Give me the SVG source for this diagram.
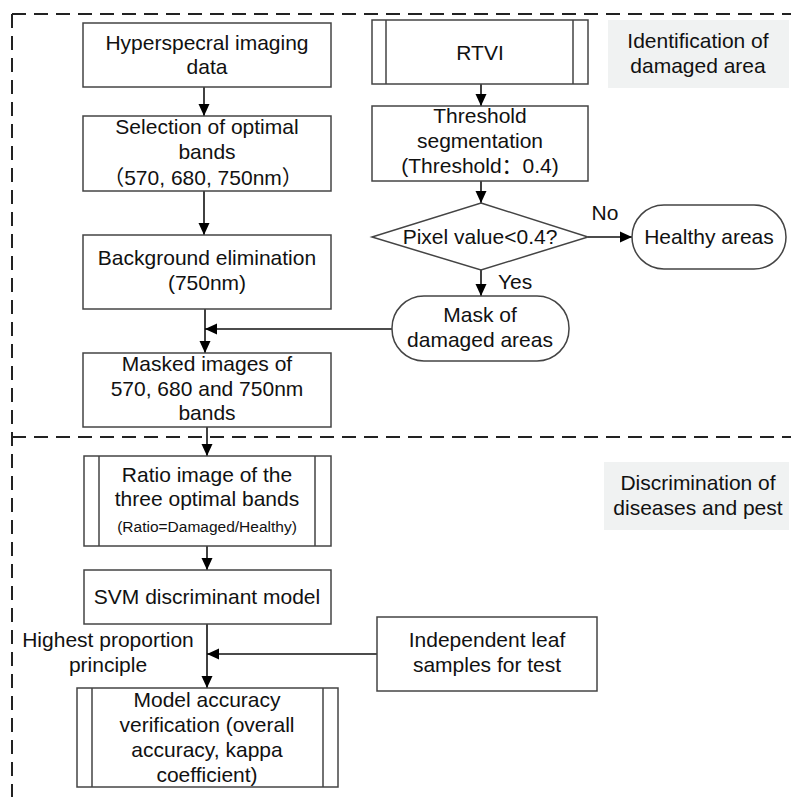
<svg xmlns="http://www.w3.org/2000/svg" width="791" height="797" viewBox="0 0 791 797">
<style>
text{font-family:"Liberation Sans",Arial,"Noto Sans CJK SC",sans-serif;font-size:21px;fill:#111;text-anchor:middle}
.box{fill:#fff;stroke:#444;stroke-width:1.5}
.in{stroke:#444;stroke-width:1.5;fill:none}
.ln{stroke:#111;stroke-width:1.6;fill:none}
.dash{stroke:#222;stroke-width:2;stroke-dasharray:14 8;fill:none}
.lab{fill:#f0f2f2}
.sm{font-size:15.5px}
</style>
<defs>
<marker id="ah" markerUnits="userSpaceOnUse" markerWidth="12" markerHeight="12" refX="12" refY="6" orient="auto">
<path d="M0,0.5 L12,6 L0,11.5 z" fill="#000"/>
</marker>
</defs>
<rect width="791" height="797" fill="#fff"/>
<g id="frame">
<path class="dash" d="M12,14 H791 M12,14 V797 M12,437 H791"/>
</g>
<g id="label1"><rect class="lab" x="608" y="20" width="181" height="68"/><text x="698" y="48">Identification of</text><text x="698" y="73">damaged area</text></g>
<g id="label2"><rect class="lab" x="604" y="462" width="185" height="68"/><text x="698" y="490">Discrimination of</text><text x="698" y="515">diseases and pest</text></g>
<g id="connectors">
<path class="ln" d="M204,87 V116" marker-end="url(#ah)"/>
<path class="ln" d="M204,191 V235" marker-end="url(#ah)"/>
<path class="ln" d="M205,309 V353" marker-end="url(#ah)"/>
<path class="ln" d="M392,329 H205" marker-end="url(#ah)"/>
<path class="ln" d="M207,427 V456" marker-end="url(#ah)"/>
<path class="ln" d="M207,546 V570" marker-end="url(#ah)"/>
<path class="ln" d="M207,624 V688" marker-end="url(#ah)"/>
<path class="ln" d="M377,654 H207" marker-end="url(#ah)"/>
<path class="ln" d="M481,84 V106" marker-end="url(#ah)"/>
<path class="ln" d="M481,181 V203" marker-end="url(#ah)"/>
<path class="ln" d="M588,237 H632" marker-end="url(#ah)"/>
<path class="ln" d="M481,270 V296" marker-end="url(#ah)"/>
<text x="605" y="220">No</text>
<text x="498" y="289" style="text-anchor:start">Yes</text>
<text x="108" y="647">Highest proportion</text>
<text x="108" y="672">principle</text>
</g>
<g id="n1"><rect class="box" x="83" y="23" width="248" height="64"/><text x="207" y="50">Hyperspecral imaging</text><text x="207" y="74">data</text></g>
<g id="n2"><rect class="box" x="83" y="116" width="248" height="75"/><text x="207" y="134">Selection of optimal</text><text x="207" y="159">bands</text><text x="203" y="185">（570, 680, 750nm）</text></g>
<g id="n3"><rect class="box" x="83" y="235" width="248" height="74"/><text x="207" y="265">Background elimination</text><text x="207" y="290">(750nm)</text></g>
<g id="n4"><rect class="box" x="83" y="353" width="248" height="74"/><text x="207" y="371">Masked images of</text><text x="207" y="396">570, 680 and 750nm</text><text x="207" y="420">bands</text></g>
<g id="n5"><rect class="box" x="84" y="456" width="247" height="90"/><path class="in" d="M99,456 V546 M315,456 V546"/><text x="207" y="482">Ratio image of the</text><text x="207" y="506">three optimal bands</text><text class="sm" x="207" y="532">(Ratio=Damaged/Healthy)</text></g>
<g id="n6"><rect class="box" x="84" y="570" width="247" height="54"/><text x="207" y="604">SVM discriminant model</text></g>
<g id="n7"><rect class="box" x="77" y="688" width="261" height="99"/><path class="in" d="M92,688 V787 M323,688 V787"/><text x="207" y="707">Model accuracy</text><text x="207" y="732">verification (overall</text><text x="207" y="757">accuracy, kappa</text><text x="207" y="782">coefficient)</text></g>
<g id="n8"><rect class="box" x="377" y="617" width="220" height="74"/><text x="487" y="647">Independent leaf</text><text x="487" y="672">samples for test</text></g>
<g id="r1"><rect class="box" x="372" y="20" width="216" height="64"/><path class="in" d="M386,20 V84 M573,20 V84"/><text x="480" y="60">RTVI</text></g>
<g id="r2"><rect class="box" x="372" y="106" width="216" height="75"/><text x="480" y="123">Threshold</text><text x="480" y="148">segmentation</text><text x="480" y="173">(Threshold：0.4)</text></g>
<g id="r3"><polygon class="box" points="481,203 588,237 481,270 372,237"/><text x="480" y="244">Pixel value&lt;0.4?</text></g>
<g id="r4"><rect class="box" x="632" y="205" width="154" height="64" rx="32"/><text x="709" y="244">Healthy areas</text></g>
<g id="r5"><rect class="box" x="392" y="296" width="177" height="65" rx="32"/><text x="480" y="322">Mask of</text><text x="480" y="347">damaged areas</text></g>
</svg>
